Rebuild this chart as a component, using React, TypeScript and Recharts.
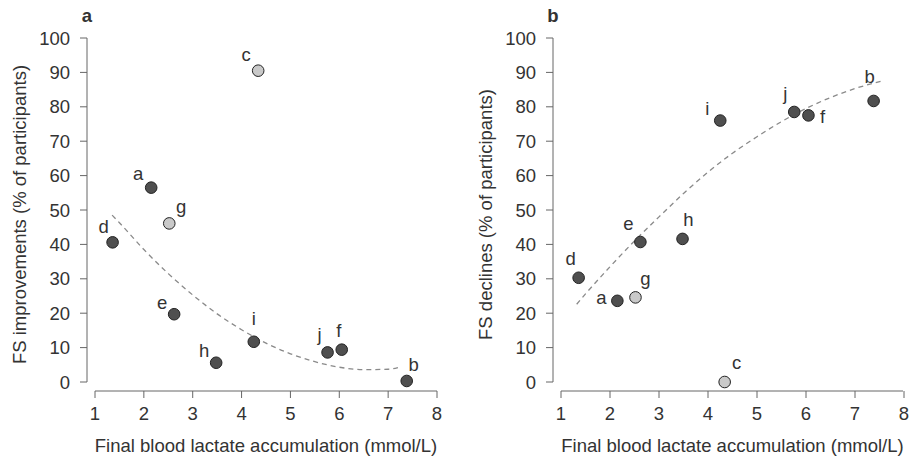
import React from 'react';
import { ComposedChart, Scatter, Line, XAxis, YAxis } from 'recharts';

// studies a–j
const STUDIES = ['a', 'b', 'c', 'd', 'e', 'f', 'g', 'h', 'i', 'j'];
const LACTATE = [2.15, 7.38, 4.34, 1.36, 2.62, 6.05, 2.52, 3.48, 4.25, 5.76];
const IMPROVEMENTS = [56.5, 0.3, 90.5, 40.6, 19.7, 9.4, 46.1, 5.6, 11.7, 8.6];
const DECLINES = [23.6, 81.7, 0, 30.3, 40.7, 77.5, 24.6, 41.6, 76, 78.5];
const LIGHT_STUDIES = ['c', 'g'];

// dashed fit lines
const FIT_A_X = [1.35, 1.5, 2, 2.5, 3, 3.5, 4, 4.5, 5, 5.5, 6, 6.5, 7, 7.2];
const FIT_A_Y = [48.5, 46.3, 38.5, 31.5, 25.3, 19.8, 15.2, 11.3, 8.2, 5.9, 4.3, 3.6, 3.7, 4.2];
const FIT_B_X = [1.32, 1.5, 2, 2.5, 3, 3.5, 4, 4.5, 5, 5.5, 6, 6.5, 7, 7.6];
const FIT_B_Y = [22.6, 25.6, 33.5, 41, 48, 54.8, 61, 66.5, 71.3, 75.7, 79.5, 82.7, 85.3, 87.7];

const X_TICKS = [1, 2, 3, 4, 5, 6, 7, 8];
const Y_TICKS = [0, 10, 20, 30, 40, 50, 60, 70, 80, 90, 100];

const X_TITLE = 'Final blood lactate accumulation (mmol/L)';

// label offsets (px) from each marker centre
const LABEL_OFFSET_A: Record<string, [number, number]> = {
  a: [-13, -14], b: [7, -16], c: [-12, -16], d: [-9, -16], e: [-12, -12],
  f: [-3, -19], g: [12, -17], h: [-12, -12], i: [0, -23], j: [-8, -18],
};
const LABEL_OFFSET_B: Record<string, [number, number]> = {
  a: [-16, -3], b: [-4, -24], c: [12, -20], d: [-8, -19], e: [-12, -18],
  f: [14, 1], g: [10, -19], h: [6, -19], i: [-13, -12], j: [-9, -18],
};

const FONT = '"Liberation Sans", Arial, Helvetica, sans-serif';
const FS = 18.5;
const TEXT = '#333';
const AXIS = '#666';

const points = (values: number[], light: boolean) =>
  STUDIES.map((name, i) => ({ name, x: LACTATE[i], y: values[i] }))
    .filter((p) => LIGHT_STUDIES.includes(p.name) === light);

const fitLine = (xs: number[], ys: number[]) => xs.map((x, i) => ({ x, y: ys[i] }));

const makeShape = (fill: string, offsets: Record<string, [number, number]>) => (props: any) => {
  const { cx, cy, payload } = props;
  const [dx, dy] = offsets[payload.name] || [0, -16];
  return (
    <g>
      <circle cx={cx} cy={cy} r={5.8} fill={fill} stroke="#222" strokeWidth={1} />
      <text
        x={cx + dx}
        y={cy + dy}
        textAnchor="middle"
        dominantBaseline="central"
        fontSize={FS}
        fontFamily={FONT}
        fill={TEXT}
      >
        {payload.name}
      </text>
    </g>
  );
};

interface PanelProps {
  width: number;
  yAxisWidth: number;
  rightMargin: number;
  values: number[];
  fitX: number[];
  fitY: number[];
  yTitle: string;
  titleOffset: number;
  offsets: Record<string, [number, number]>;
}

const Panel: React.FC<PanelProps> = ({
  width, yAxisWidth, rightMargin, values, fitX, fitY, yTitle, titleOffset, offsets,
}) => {
  const tick = { fontSize: FS, fill: TEXT, fontFamily: FONT };
  return (
    <ComposedChart
      width={width}
      height={456}
      margin={{ top: 38, right: rightMargin, bottom: 0, left: 0 }}
    >
      <XAxis
        type="number"
        dataKey="x"
        domain={[1, 8]}
        ticks={X_TICKS}
        padding={{ left: 8, right: 0 }}
        height={65}
        tick={tick}
        tickSize={7}
        tickMargin={9}
        stroke={AXIS}
        axisLine={{ stroke: AXIS, strokeDasharray: '0 8 342 20' }}
        tickLine={{ stroke: AXIS }}
        label={{
          value: X_TITLE,
          position: 'insideBottom',
          offset: 4,
          dx: 4,
          style: { fontSize: FS, fill: TEXT, fontFamily: FONT },
        }}
      />
      <YAxis
        type="number"
        dataKey="y"
        domain={[0, 100]}
        ticks={Y_TICKS}
        padding={{ top: 0, bottom: 9 }}
        width={yAxisWidth}
        tick={tick}
        tickSize={7}
        tickMargin={10}
        stroke={AXIS}
        axisLine={{ stroke: AXIS, strokeDasharray: '344 20' }}
        tickLine={{ stroke: AXIS }}
        label={{
          value: yTitle,
          angle: -90,
          position: 'insideLeft',
          offset: titleOffset,
          dx: 4,
          style: { fontSize: FS, fill: TEXT, fontFamily: FONT, textAnchor: 'middle' },
        }}
      />
      <Line
        data={fitLine(fitX, fitY)}
        dataKey="y"
        type="monotone"
        stroke="#8a8a8a"
        strokeWidth={1.3}
        strokeDasharray="5 4"
        dot={false}
        activeDot={false}
        isAnimationActive={false}
      />
      <Scatter
        data={points(values, false)}
        dataKey="y"
        shape={makeShape('#4f4f4f', offsets)}
        isAnimationActive={false}
      />
      <Scatter
        data={points(values, true)}
        dataKey="y"
        shape={makeShape('#c9c9c9', offsets)}
        isAnimationActive={false}
      />
    </ComposedChart>
  );
};

export default function App() {
  return (
    <div
      style={{
        position: 'absolute',
        left: 0,
        top: 0,
        width: 911,
        height: 456,
        background: '#fff',
        display: 'flex',
      }}
    >
      <Panel
        width={455}
        yAxisWidth={87}
        rightMargin={18}
        values={IMPROVEMENTS}
        fitX={FIT_A_X}
        fitY={FIT_A_Y}
        yTitle="FS improvements (% of participants)"
        titleOffset={15}
        offsets={LABEL_OFFSET_A}
      />
      <Panel
        width={456}
        yAxisWidth={98}
        rightMargin={7}
        values={DECLINES}
        fitX={FIT_B_X}
        fitY={FIT_B_Y}
        yTitle="FS declines (% of participants)"
        titleOffset={26}
        offsets={LABEL_OFFSET_B}
      />
      <svg
        width={911}
        height={456}
        style={{ position: 'absolute', left: 0, top: 0, pointerEvents: 'none' }}
      >
        <text x={87} y={22} textAnchor="middle" fontSize={FS} fontWeight="bold" fontFamily={FONT} fill={TEXT}>
          a
        </text>
        <text x={553} y={22} textAnchor="middle" fontSize={FS} fontWeight="bold" fontFamily={FONT} fill={TEXT}>
          b
        </text>
      </svg>
    </div>
  );
}
